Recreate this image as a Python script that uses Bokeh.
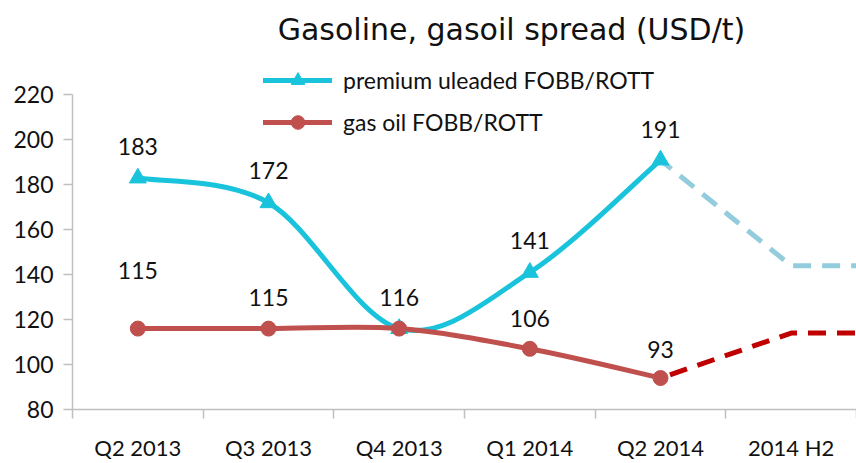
import numpy as np
from bokeh.plotting import figure
from bokeh.models import Range1d, FixedTicker, Legend, LegendItem, ColumnDataSource, Label
from bokeh.core.properties import value
from bokeh.embed import file_html
from bokeh.resources import INLINE

# ---------------- data ----------------
categories = ["Q2 2013", "Q3 2013", "Q4 2013", "Q1 2014", "Q2 2014", "2014 H2"]
premium = [183, 172, 116, 141, 191]
gasoil = [116, 116, 116, 107, 94]
premium_labels = ["183", "172", "116", "141", "191"]
gasoil_labels = ["115", "115", "", "106", "93"]
# forecast: from Q2 2014 to 2014 H2, then flat to the end of the axis
premium_forecast = [191, 144, 144]
gasoil_forecast = [94, 114, 114]
y_ticks = [80, 100, 120, 140, 160, 180, 200, 220]
title_text = "Gasoline, gasoil spread (USD/t)"

# ---------------- style ----------------
BLUE = "#19C3DC"
RED = "#C0504D"
BLUE_FC = "#93CDDD"
RED_FC = "#C00000"
FONT = "Lato"
TXT = "#111111"
premium_label_offset = [-32, -32, -31, -32, -31]
gasoil_label_offset = [-58, -31, 0, -30, -29]
Y_VIEW_TOP = 262  # headroom above the 220 tick for title + legend

x_pos = list(range(len(premium)))
x_range = Range1d(-0.5, len(categories) - 0.5)

p = figure(width=856, height=463, x_range=x_range,
           y_range=Range1d(y_ticks[0], Y_VIEW_TOP),
           output_backend="svg", toolbar_location=None,
           min_border_left=72, min_border_right=0, min_border_top=0,
           min_border_bottom=53)
p.outline_line_color = None
p.xgrid.grid_line_color = None
p.ygrid.grid_line_color = None
p.background_fill_color = "white"
p.border_fill_color = "white"

p.add_layout(Label(x=439, y=380, x_units="screen", y_units="screen",
                   text=title_text, text_align="center", text_baseline="middle",
                   text_font="DejaVu Sans", text_font_size="30px",
                   text_font_style="normal", text_color=TXT))


def smooth(xs, ys):
    n = len(xs)
    d = dict(x0=[], y0=[], x1=[], y1=[], cx0=[], cy0=[], cx1=[], cy1=[])
    for i in range(n - 1):
        a = i - 1 if i > 0 else i
        b = i + 2 if i + 2 < n else i + 1
        d["x0"].append(xs[i]); d["y0"].append(ys[i])
        d["x1"].append(xs[i + 1]); d["y1"].append(ys[i + 1])
        d["cx0"].append(xs[i] + (xs[i + 1] - xs[a]) / 6)
        d["cy0"].append(ys[i] + (ys[i + 1] - ys[a]) / 6)
        d["cx1"].append(xs[i + 1] - (xs[b] - xs[i]) / 6)
        d["cy1"].append(ys[i + 1] - (ys[b] - ys[i]) / 6)
    return ColumnDataSource(d)


# forecast dashed lines
fc_x = [categories.index("Q2 2014"), categories.index("2014 H2"), x_range.end]
p.line(fc_x, premium_forecast, line_color=BLUE_FC, line_width=5,
       line_dash="18 11", line_dash_offset=4)
p.line(fc_x, gasoil_forecast, line_color=RED_FC, line_width=5,
       line_dash="18 11", line_dash_offset=-10)

# smoothed series
b_line = p.bezier(x0="x0", y0="y0", x1="x1", y1="y1", cx0="cx0", cy0="cy0",
                  cx1="cx1", cy1="cy1", source=smooth(x_pos, premium),
                  line_color=BLUE, line_width=5, line_cap="round")
r_line = p.bezier(x0="x0", y0="y0", x1="x1", y1="y1", cx0="cx0", cy0="cy0",
                  cx1="cx1", cy1="cy1", source=smooth(x_pos, gasoil),
                  line_color=RED, line_width=5, line_cap="round")
b_mark = p.scatter(x_pos, premium, marker="triangle", size=17,
                   fill_color=BLUE, line_color=BLUE)
r_mark = p.scatter(x_pos, gasoil, marker="circle", size=15,
                   fill_color=RED, line_color=RED)

# data labels
p.text(x=x_pos, y=premium, text=premium_labels, y_offset=premium_label_offset,
       text_align="center", text_baseline="middle", text_font=value(FONT),
       text_font_size="23px", text_color=TXT)
p.text(x=x_pos, y=gasoil, text=gasoil_labels, y_offset=gasoil_label_offset,
       text_align="center", text_baseline="middle", text_font=value(FONT),
       text_font_size="23px", text_color=TXT)

# axes
xa = p.xaxis[0]
xa.ticker = FixedTicker(ticks=list(range(len(categories))),
                        minor_ticks=[i - 0.5 for i in range(len(categories) + 1)])
xa.major_label_overrides = {i: c for i, c in enumerate(categories)}
xa.major_tick_line_color = None
xa.major_tick_out = 0
xa.major_tick_in = 0
xa.minor_tick_out = 9
xa.minor_tick_in = 0
xa.minor_tick_line_color = "#BFBFBF"
xa.axis_line_color = "#BFBFBF"
xa.axis_line_width = 1.5
xa.minor_tick_line_width = 1.5
xa.major_label_standoff = 15
xa.major_label_text_font = FONT
xa.major_label_text_font_size = "22px"
xa.major_label_text_color = TXT

ya = p.yaxis[0]
ya.ticker = FixedTicker(ticks=y_ticks)
ya.bounds = (y_ticks[0], y_ticks[-1])
ya.major_tick_out = 9
ya.major_tick_in = 0
ya.minor_tick_line_color = None
ya.major_tick_line_color = "#BFBFBF"
ya.major_tick_line_width = 1.5
ya.axis_line_color = "#BFBFBF"
ya.axis_line_width = 1.5
ya.major_label_standoff = 10
ya.major_label_text_font = FONT
ya.major_label_text_font_size = "23px"
ya.major_label_text_color = TXT

legend = Legend(items=[
    LegendItem(label="premium uleaded FOBB/ROTT", renderers=[b_line, b_mark]),
    LegendItem(label="gas oil FOBB/ROTT", renderers=[r_line, r_mark]),
], location=(191, 270), orientation="vertical")
legend.border_line_color = None
legend.background_fill_alpha = 0
legend.padding = 0
legend.margin = 0
legend.glyph_width = 69
legend.glyph_height = 34
legend.label_height = 34
legend.spacing = 8
legend.label_standoff = 11
legend.label_text_font = FONT
legend.label_text_font_size = "23px"
legend.label_text_color = TXT
p.add_layout(legend, "center")

open("out.html", "w").write(file_html(p, INLINE))
